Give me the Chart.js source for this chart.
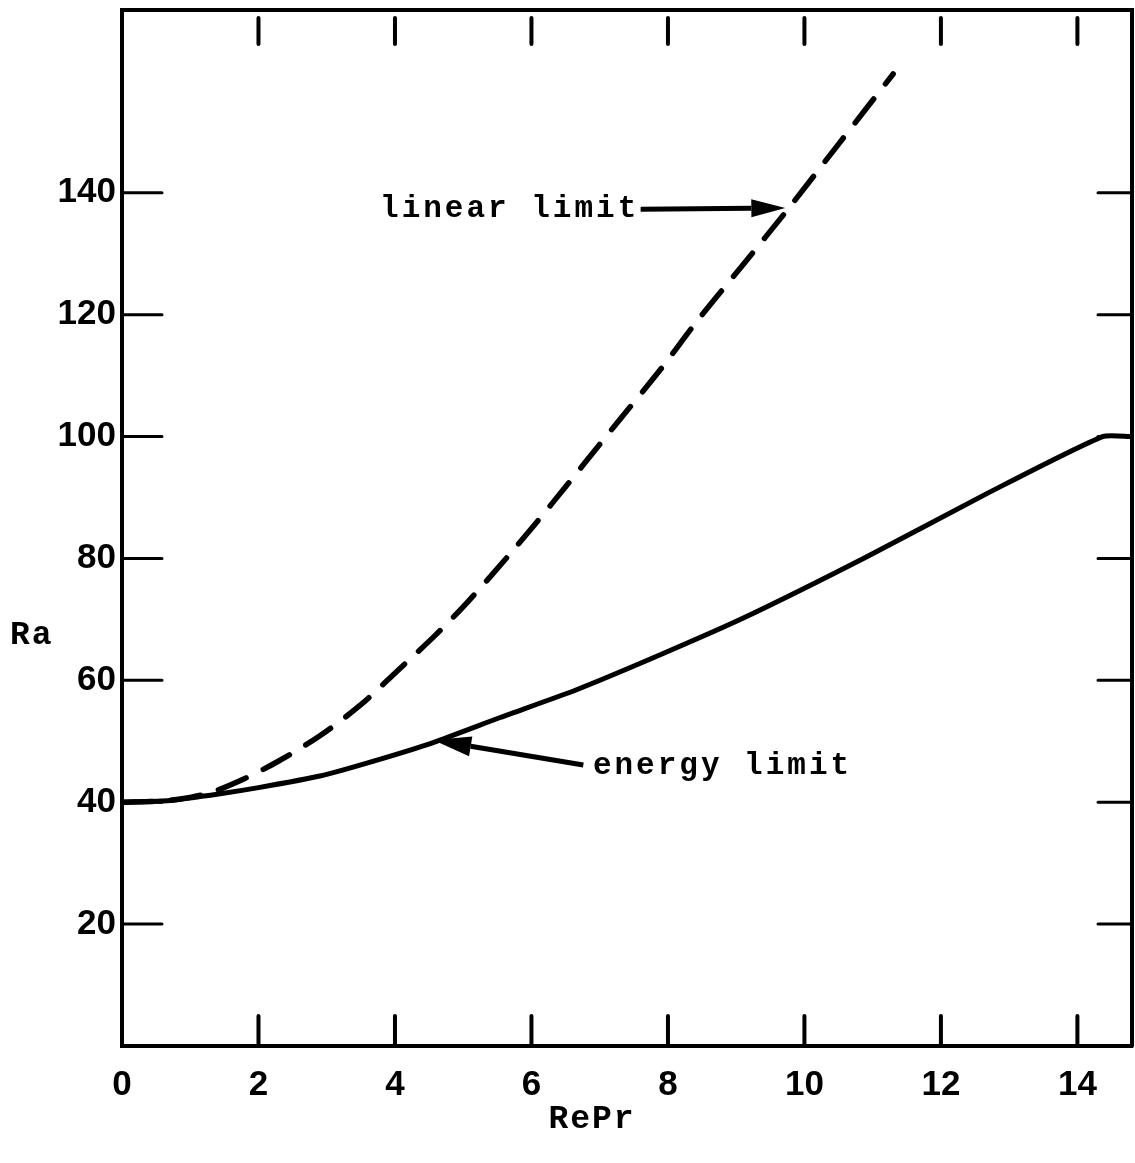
<!DOCTYPE html>
<html lang="en">
<head>
<meta charset="UTF-8">
<title>Ra vs RePr</title>
<script src="https://cdn.jsdelivr.net/npm/chart.js@4"></script>
<style>
  html, body { margin: 0; padding: 0; background: #fff; }
  #wrap { width: 1135px; height: 1163px; }
</style>
</head>
<body>
<div id="wrap"><canvas id="chart" width="1135" height="1163"></canvas></div>
<script>
// energy limit (solid)
const energyRePr = [0, 0.7, 1.44, 2.0, 2.9, 3.7, 4.56, 5.54, 6.67, 7.93, 9.12, 10.9, 12.7, 14.37, 14.8];
const energyRa   = [40, 40.3, 41.4, 42.4, 44.3, 46.8, 49.8, 53.9, 58.5, 64.4, 70.3, 80.2, 90.8, 100, 100];

// linear limit (dashed)
const linearRePr = [0, 0.6, 1.0, 1.33, 1.8, 2.27, 2.9, 3.5, 4.03, 4.6, 5.06, 5.69, 6.3, 7.2, 7.89, 8.43, 9.1, 9.75, 10.5, 11.3];
const linearRa   = [40, 40.2, 40.8, 41.7, 43.9, 46.6, 50.9, 56.0, 61.5, 67.5, 72.8, 80.8, 89.0, 101.5, 111.0, 119.0, 128.2, 137.2, 148.0, 159.5];

const xTicks = [0, 2, 4, 6, 8, 10, 12, 14];
const yTicks = [20, 40, 60, 80, 100, 120, 140];
const xMarks = [2, 4, 6, 8, 10, 12, 14];

const toPoints = (xs, ys) => xs.map((v, i) => ({ x: v, y: ys[i] }));

const mono = 'bold 31px "Liberation Mono", "DejaVu Sans Mono", monospace';
const monoBig = 'bold 33px "Liberation Mono", "DejaVu Sans Mono", monospace';

function arrow(ctx, x1, y1, x2, y2, head, half) {
  const ang = Math.atan2(y2 - y1, x2 - x1);
  const bx = x2 - head * Math.cos(ang), by = y2 - head * Math.sin(ang);
  ctx.beginPath();
  ctx.moveTo(x1, y1);
  ctx.lineTo(bx, by);
  ctx.stroke();
  ctx.beginPath();
  ctx.moveTo(x2, y2);
  ctx.lineTo(bx - half * Math.sin(ang), by + half * Math.cos(ang));
  ctx.lineTo(bx + half * Math.sin(ang), by - half * Math.cos(ang));
  ctx.closePath();
  ctx.fill();
}

const overlay = {
  id: 'overlay',
  afterDatasetsDraw(chart) {
    const { ctx, chartArea: a, scales: { x, y } } = chart;
    ctx.save();
    ctx.strokeStyle = '#000';
    ctx.fillStyle = '#000';
    ctx.lineCap = 'round';

    // frame top and right
    ctx.lineWidth = 4;
    ctx.beginPath();
    ctx.moveTo(a.left, a.top);
    ctx.lineTo(a.right, a.top);
    ctx.lineTo(a.right, a.bottom);
    ctx.stroke();

    // inward tick marks
    xMarks.forEach(v => {
      const px = x.getPixelForValue(v);
      ctx.beginPath();
      ctx.moveTo(px, a.bottom); ctx.lineTo(px, a.bottom - 30);
      ctx.moveTo(px, a.top + 8); ctx.lineTo(px, a.top + 34);
      ctx.stroke();
    });
    ctx.lineWidth = 3;
    yTicks.forEach(v => {
      const py = y.getPixelForValue(v);
      ctx.beginPath();
      ctx.moveTo(a.left, py); ctx.lineTo(a.left + 40, py);
      ctx.moveTo(a.right, py); ctx.lineTo(a.right - 34, py);
      ctx.stroke();
    });

    // annotations
    ctx.font = mono;
    ctx.letterSpacing = '3px';
    ctx.textBaseline = 'middle';

    ctx.lineWidth = 5;
    ctx.lineCap = 'butt';
    arrow(ctx, x.getPixelForValue(7.6), y.getPixelForValue(137.3),
               x.getPixelForValue(9.72), y.getPixelForValue(137.5), 34, 9);
    ctx.textAlign = 'right';
    ctx.fillText('linear limit', x.getPixelForValue(7.58), y.getPixelForValue(137.3));

    arrow(ctx, x.getPixelForValue(6.76), y.getPixelForValue(46.1),
               x.getPixelForValue(4.56), y.getPixelForValue(50.2), 38, 10);
    ctx.textAlign = 'left';
    ctx.fillText('energy limit', x.getPixelForValue(6.9), y.getPixelForValue(45.9));

    // axis titles
    ctx.font = monoBig;
    ctx.letterSpacing = '2px';
    ctx.textAlign = 'center';
    ctx.fillText('RePr', 592, 1120);
    ctx.textAlign = 'left';
    ctx.fillText('Ra', 10, 636);
    ctx.restore();
  }
};

new Chart(document.getElementById('chart'), {
  type: 'line',
  data: {
    datasets: [
      {
        label: 'energy limit',
        data: toPoints(energyRePr, energyRa),
        borderColor: '#000',
        borderWidth: 5,
        borderJoinStyle: 'round',
        pointRadius: 0,
        tension: 0.2,
        fill: false
      },
      {
        label: 'linear limit',
        data: toPoints(linearRePr, linearRa),
        borderColor: '#000',
        borderWidth: 5.5,
        borderDash: [30, 19],
        borderCapStyle: 'round',
        pointRadius: 0,
        tension: 0.3,
        fill: false
      }
    ]
  },
  options: {
    responsive: false,
    animation: false,
    layout: { padding: { top: 10, right: 3, left: 0, bottom: 0 } },
    plugins: {
      legend: { display: false },
      tooltip: { enabled: false }
    },
    scales: {
      x: {
        type: 'linear',
        min: 0,
        max: 14.8,
        afterBuildTicks: s => { s.ticks = xTicks.map(v => ({ value: v })); },
        afterFit: s => { s.height = 117; s.paddingLeft = 0; s.paddingRight = 0; },
        grid: { drawOnChartArea: false, drawTicks: false },
        border: { display: true, color: '#000', width: 4 },
        ticks: {
          color: '#000',
          padding: 18,
          maxRotation: 0,
          font: { family: '"Liberation Sans", Arial, sans-serif', size: 35, weight: 'bold' }
        }
      },
      y: {
        type: 'linear',
        min: 0,
        max: 170,
        afterBuildTicks: s => { s.ticks = yTicks.map(v => ({ value: v })); },
        afterFit: s => { s.width = 122; s.paddingTop = 0; s.paddingBottom = 0; },
        grid: { drawOnChartArea: false, drawTicks: false },
        border: { display: true, color: '#000', width: 4 },
        ticks: {
          color: '#000',
          padding: 6,
          font: { family: '"Liberation Sans", Arial, sans-serif', size: 35, weight: 'bold' }
        }
      }
    }
  },
  plugins: [overlay]
});
</script>
</body>
</html>
